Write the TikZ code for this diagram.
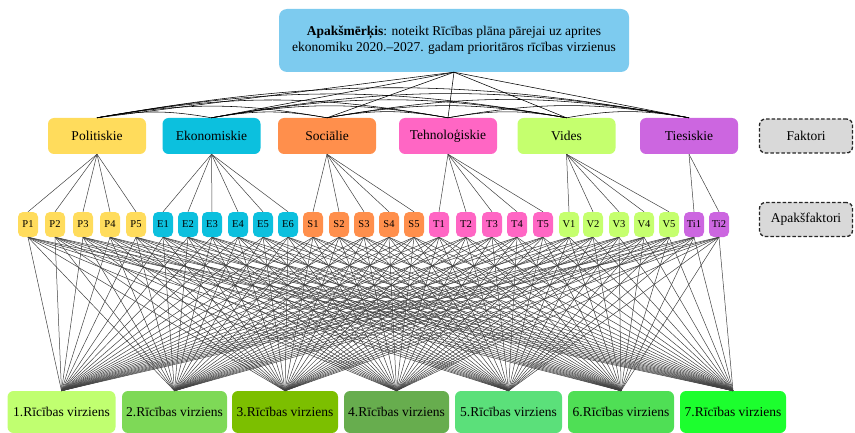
\documentclass[tikz,border=0pt]{standalone}
\usepackage{fontspec}
\setmainfont{Liberation Serif}
\definecolor{topc}{RGB}{125,203,239}
\definecolor{cP}{RGB}{255,220,92}
\definecolor{cE}{RGB}{12,192,222}
\definecolor{cS}{RGB}{255,143,76}
\definecolor{cT}{RGB}{255,102,196}
\definecolor{cV}{RGB}{197,255,110}
\definecolor{cTi}{RGB}{204,102,224}
\definecolor{legc}{RGB}{217,217,217}
\definecolor{b1}{RGB}{192,255,112}
\definecolor{b2}{RGB}{126,217,87}
\definecolor{b3}{RGB}{124,191,0}
\definecolor{b4}{RGB}{103,173,78}
\definecolor{b5}{RGB}{91,224,122}
\definecolor{b6}{RGB}{79,223,85}
\definecolor{b7}{RGB}{28,255,46}
\definecolor{linec}{RGB}{64,64,64}
\begin{document}
\begin{tikzpicture}[x=1pt,y=1pt,
  txt/.style={font=\fontsize{13.5}{16}\selectfont},
  topbox/.style={rounded corners=8pt, inner sep=0pt, align=center, minimum width=350pt, minimum height=63pt, fill=topc, txt},
  fac/.style={rounded corners=6pt, inner sep=0pt, minimum width=98pt, minimum height=36pt, txt},
  leg/.style={rounded corners=6pt, inner sep=0pt, minimum width=93pt, minimum height=34pt, fill=legc, draw=black!85, line width=1.3pt, dash pattern=on 3.5pt off 2pt, txt},
  subf/.style={rounded corners=5pt, inner sep=0pt, minimum width=20pt, minimum height=25pt, font=\fontsize{10.5}{12}\selectfont},
  bot/.style={rounded corners=6pt, inner sep=0pt, minimum height=42pt, txt},
  topline/.style={black, line width=0.55pt},
  facline/.style={linec, line width=0.5pt},
  botline/.style={linec, line width=0.5pt}]
\clip (0,0) rectangle (855,432);
\useasboundingbox (0,0) rectangle (855,432);

\node[topbox] (top) at (454,391.5) {\textbf{Apakšmērķis}: noteikt Rīcības plāna pārejai uz aprites\\ekonomiku 2020.–2027. gadam prioritāros rīcības virzienus};

\node[fac, fill=cP]  (f1) at (97,296)    {Politiskie};
\node[fac, fill=cE]  (f2) at (211.5,296) {Ekonomiskie};
\node[fac, fill=cS]  (f3) at (327,296)   {Sociālie};
\node[fac, fill=cT]  (f4) at (448,296)   {Tehnoloģiskie};
\node[fac, fill=cV]  (f5) at (566.5,296) {Vides};
\node[fac, fill=cTi] (f6) at (689,296)   {Tiesiskie};

\node[leg] (lf) at (806,296)   {Faktori};
\node[leg] (la) at (806,212.5) {Apakšfaktori};

\foreach \x/\n/\p/\c in {28/P1/f1/cP,55/P2/f1/cP,83/P3/f1/cP,110/P4/f1/cP,136/P5/f1/cP,
  163/E1/f2/cE,188/E2/f2/cE,212/E3/f2/cE,238/E4/f2/cE,263/E5/f2/cE,288/E6/f2/cE,
  313/S1/f3/cS,339/S2/f3/cS,364/S3/f3/cS,389/S4/f3/cS,414/S5/f3/cS,
  439/T1/f4/cT,466/T2/f4/cT,492/T3/f4/cT,517/T4/f4/cT,543/T5/f4/cT,
  569/V1/f5/cV,593/V2/f5/cV,619/V3/f5/cV,644/V4/f5/cV,669/V5/f5/cV,
  694/Ti1/f6/cTi,719/Ti2/f6/cTi}{
  \node[subf, fill=\c] (s\n) at (\x,207.5) {\n};
  \draw[facline] (\p.south) -- (s\n.north);
}

\node[bot, fill=b1, minimum width=108pt] (bx1) at (61.5,20)  {1.Rīcības virziens};
\node[bot, fill=b2, minimum width=105pt] (bx2) at (174.5,20) {2.Rīcības virziens};
\node[bot, fill=b3, minimum width=106pt] (bx3) at (285,20)   {3.Rīcības virziens};
\node[bot, fill=b4, minimum width=105pt] (bx4) at (396.5,20) {4.Rīcības virziens};
\node[bot, fill=b5, minimum width=107pt] (bx5) at (508.5,20) {5.Rīcības virziens};
\node[bot, fill=b6, minimum width=106pt] (bx6) at (621,20)   {6.Rīcības virziens};
\node[bot, fill=b7, minimum width=106pt] (bx7) at (733,20)   {7.Rīcības virziens};

\foreach \n in {P1,P2,P3,P4,P5,E1,E2,E3,E4,E5,E6,S1,S2,S3,S4,S5,T1,T2,T3,T4,T5,V1,V2,V3,V4,V5,Ti1,Ti2}{
  \foreach \b in {1,...,7}{
    \draw[botline] (s\n.south) -- (bx\b.north);
  }
}

\foreach \i in {1,...,6}{
  \draw[topline] (top.south) -- (f\i.north);
}
\foreach \i in {1,...,5}{
  \pgfmathtruncatemacro\ii{\i+1}
  \foreach \j in {\ii,...,6}{
    \draw[topline] (f\i.north) to[bend left=10] (f\j.north);
  }
}
\end{tikzpicture}
\end{document}
